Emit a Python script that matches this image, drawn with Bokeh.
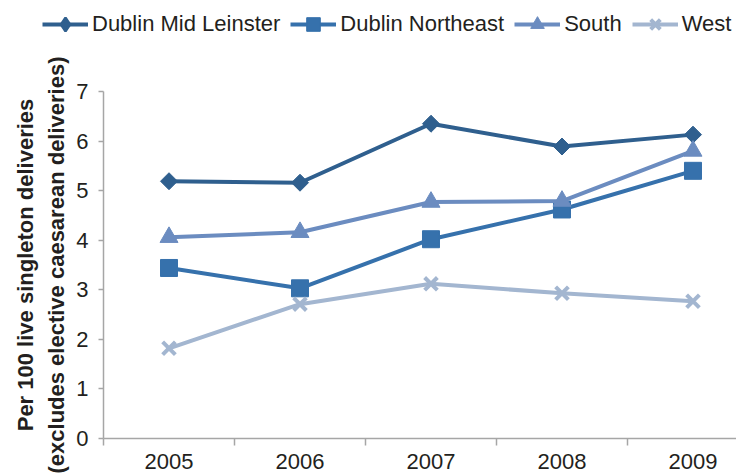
import math
from bokeh.plotting import figure
from bokeh.models import Range1d, FixedTicker, Legend, LegendItem
from bokeh.embed import file_html
from bokeh.resources import INLINE

years = ["2005", "2006", "2007", "2008", "2009"]
dublin_mid_leinster = [5.19, 5.16, 6.35, 5.89, 6.13]
dublin_northeast = [3.44, 3.03, 4.02, 4.62, 5.40]
south = [4.06, 4.16, 4.77, 4.79, 5.80]
west = [1.82, 2.71, 3.12, 2.93, 2.77]
y_ticks = [0, 1, 2, 3, 4, 5, 6, 7]

xs = list(range(len(years)))

FONT = "Liberation Sans"
TXT = "#231f20"
AX = "#a6a6a6"

W, H = 736, 475
# frame covers the whole canvas; axes are pinned inside it
p = figure(width=W, height=H, output_backend="svg", toolbar_location=None,
           x_range=Range1d(-1.2863, 4.3321), y_range=Range1d(-0.7464, 8.8357),
           min_border_left=0, min_border_right=0, min_border_top=0, min_border_bottom=0)
p.outline_line_color = None
p.xgrid.visible = False
p.ygrid.visible = False

p.xaxis.fixed_location = 0
p.xaxis.bounds = (-0.5, 4.5)
p.xaxis.ticker = FixedTicker(ticks=xs, minor_ticks=[i - 0.5 for i in range(len(years) + 1)])
p.xaxis.major_label_overrides = {i: y for i, y in enumerate(years)}
p.xaxis.major_tick_out = 0
p.xaxis.major_tick_in = 0
p.xaxis.minor_tick_out = 7
p.xaxis.minor_tick_in = 0
p.xaxis.minor_tick_line_color = AX
p.xaxis.minor_tick_line_width = 1.5
p.xaxis.axis_line_color = AX
p.xaxis.axis_line_width = 1.5
p.xaxis.major_label_standoff = 9
p.xaxis.major_label_text_font = FONT
p.xaxis.major_label_text_font_size = "22px"
p.xaxis.major_label_text_color = TXT

p.yaxis.fixed_location = -0.5
p.yaxis.bounds = (0, 7)
p.yaxis.ticker = FixedTicker(ticks=y_ticks, minor_ticks=[])
p.yaxis.major_tick_out = 5
p.yaxis.major_tick_in = 0
p.yaxis.major_tick_line_color = AX
p.yaxis.major_tick_line_width = 1.5
p.yaxis.axis_line_color = AX
p.yaxis.axis_line_width = 1.5
p.yaxis.major_label_standoff = 10
p.yaxis.major_label_text_font = FONT
p.yaxis.major_label_text_font_size = "22px"
p.yaxis.major_label_text_color = TXT
p.yaxis.axis_label = "Per 100 live singleton deliveries\n(excludes elective caesarean deliveries)"
p.yaxis.axis_label_text_font = FONT
p.yaxis.axis_label_text_font_size = "22px"
p.yaxis.axis_label_text_font_style = "bold"
p.yaxis.axis_label_text_color = TXT
p.yaxis.axis_label_text_line_height = 1.25
p.yaxis.axis_label_standoff = 4

series = [
    ("Dublin Mid Leinster", dublin_mid_leinster, "#2f5f8e", "square", math.pi / 4, 12, "diamond"),
    ("Dublin Northeast", dublin_northeast, "#3671ac", "square", 0, 17, "square"),
    ("South", south, "#6b8cc0", "triangle", 0, 18, "triangle"),
    ("West", west, "#a3b6d0", "x", 0, 18, "x"),
]

items = []
for name, vals, col, mk, ang, sz, lmk in series:
    ln = p.line(xs, vals, line_color=col, line_width=4)
    if mk == "x":
        sc = p.scatter(xs, vals, marker=mk, size=sz, line_color=col, line_width=4)
    else:
        sc = p.scatter(xs, vals, marker=mk, size=sz, angle=ang, fill_color=col, line_color=col)
    if lmk == mk:
        leg_r = sc
    else:
        leg_r = p.scatter(xs, vals, marker=lmk, size=sz, fill_color=col, line_color=col,
                          line_width=2.5, visible=False)
    items.append(LegendItem(label=name, renderers=[ln, leg_r]))

legend = Legend(items=items, orientation="horizontal", location=(42, H - 41),
                glyph_width=46, glyph_height=34, label_standoff=4, spacing=10,
                padding=0, margin=0, border_line_alpha=0, background_fill_alpha=0,
                label_text_font=FONT, label_text_font_size="22px", label_text_color=TXT)
p.add_layout(legend, "center")

open("out.html", "w").write(file_html(p, INLINE))
